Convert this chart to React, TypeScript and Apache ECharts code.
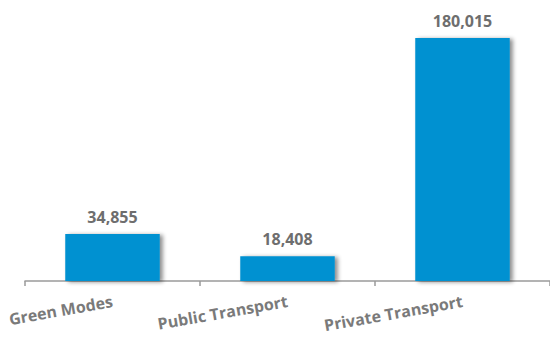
import React, { useEffect, useRef } from "react";
import * as echarts from "echarts";

const categories = ["Green Modes", "Public Transport", "Private Transport"];
const values = [34855, 18408, 180015];

export default function App() {
  const ref = useRef<HTMLDivElement>(null);
  useEffect(() => {
    const chart = echarts.init(ref.current!, null, { renderer: "svg" });
    chart.setOption({
      animation: false,
      backgroundColor: "#ffffff",
      grid: { left: 25, right: -8, top: 11, bottom: 62, containLabel: false },
      xAxis: {
        type: "category",
        data: categories,
        axisLine: { show: true, lineStyle: { color: "#9a9a9a", width: 1.5 } },
        axisTick: { show: true, length: 5, lineStyle: { color: "#9a9a9a", width: 1.5 } },
        axisLabel: {
          rotate: 10,
          margin: 20,
          interval: 0,
          color: "#7a7a7a",
          fontFamily: "Open Sans",
          fontWeight: "bold",
          fontSize: 16,
        },
      },
      yAxis: {
        type: "value",
        min: 0,
        max: 200000,
        show: false,
        splitLine: { show: false },
      },
      series: [
        {
          type: "bar",
          data: values,
          barWidth: "54%",
          itemStyle: {
            color: "#0091D1",
            shadowColor: "rgba(0,0,0,0.45)",
            shadowBlur: 4,
            shadowOffsetX: 3,
            shadowOffsetY: 1,
          },
          label: {
            show: true,
            position: "top",
            distance: 9,
            color: "#6e6e6e",
            fontFamily: "Open Sans",
            fontWeight: "bold",
            fontSize: 16,
            formatter: (p: any) => p.value.toLocaleString("en-US"),
          },
        },
      ],
    });
    return () => chart.dispose();
  }, []);
  return <div ref={ref} style={{ width: 550, height: 343, position: "absolute", left: 0, top: 0 }} />;
}
